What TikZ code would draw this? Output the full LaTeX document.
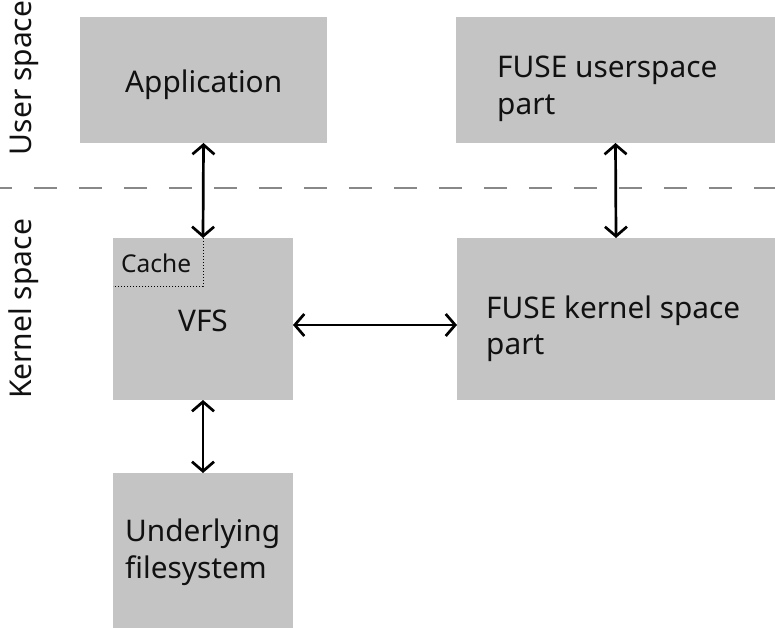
\documentclass[tikz,border=0pt]{standalone}
\usepackage{fontspec}
\setmainfont{Noto Sans}
\usetikzlibrary{arrows.meta}
\definecolor{boxgray}{HTML}{C4C4C4}
\definecolor{dashgray}{HTML}{888888}
\definecolor{ink}{HTML}{111111}
\begin{document}
\begin{tikzpicture}[x=1pt,y=-1pt,
  box/.style={fill=boxgray, draw=none, inner sep=0pt, outer sep=0pt, anchor=north west},
  lbl/.style={anchor=base west, inner sep=0pt, font=\fontsize{29.8}{36}\selectfont, text=ink},
  side/.style={anchor=base, rotate=90, inner sep=0pt, font=\fontsize{30}{36}\selectfont, text=ink},
  biarrow/.style={line width=2.7pt, draw=black, {Straight Barb[length=9.5pt,width=22pt]}-{Straight Barb[length=9.5pt,width=22pt]}}]
\useasboundingbox (0,0) rectangle (775,628);
% boxes
\node[box, minimum width=247pt, minimum height=126pt] (app) at (80,17) {};
\node[box, minimum width=319pt, minimum height=126pt] (fuseu) at (456,17) {};
\node[box, minimum width=180pt, minimum height=162pt] (vfs) at (113,238) {};
\node[box, minimum width=318pt, minimum height=162pt] (fusek) at (457,238) {};
\node[box, minimum width=180pt, minimum height=155pt] (ufs) at (113,473) {};
% texts
\node[lbl] (tapp) at (125,93) {Application};
\node[lbl] (tfu1) at (497,78) {FUSE userspace};
\node[lbl] (tfu2) at (497,115) {part};
\node[lbl, anchor=base] (tvfs) at (203,331) {VFS};
\node[lbl] (tfk1) at (486,318) {FUSE kernel space};
\node[lbl] (tfk2) at (486,354) {part};
\node[lbl] (tuf1) at (125,541) {Underlying};
\node[lbl] (tuf2) at (125,578) {filesystem};
\node[lbl, font=\fontsize{24.5}{29}\selectfont] (tcache) at (121,272) {Cache};
\node[side] (tuser) at (31,78) {User space};
\node[side] (tkern) at (31,309) {Kernel space};
% separator
\coordinate (dl) at (0,188);
\coordinate (dr) at (775,188);
\draw[dashgray, line width=2pt, dash pattern=on 23pt off 22pt, dash phase=11pt] (dl) -- (dr);
% cache area
\coordinate (cc) at (203,286);
\draw[black, line width=1pt, dotted] (vfs.north) -- (cc) -- (vfs.west |- cc);
% arrows
\draw[biarrow] (app.south) -- (vfs.north);
\draw[biarrow] (fuseu.south) -- (fusek.north);
\draw[biarrow] ([yshift=-6pt]vfs.east) -- ([yshift=-6pt]vfs.east -| fusek.west);
\draw[biarrow] (vfs.south) -- (ufs.north);
\end{tikzpicture}
\end{document}
